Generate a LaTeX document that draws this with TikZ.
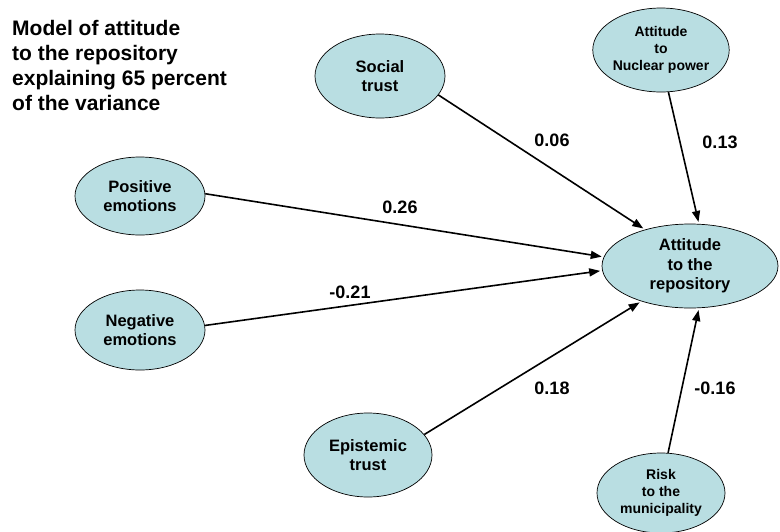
\documentclass[tikz,border=0pt]{standalone}
\usepackage{fontspec}
\setmainfont{Liberation Sans}
\usetikzlibrary{shapes.geometric,arrows.meta}

\definecolor{factorfill}{RGB}{185,222,226}

\tikzstyle{factor} = [ellipse,draw=black,line width=0.7pt,fill=factorfill,inner sep=0pt,align=center,font=\bfseries\fontsize{16.5}{19.5}\selectfont]
\tikzstyle{smallfactor} = [factor,font=\bfseries\fontsize{14}{17}\selectfont]
\tikzstyle{path} = [line width=1.6pt,-{Triangle[length=11pt,width=8pt]},shorten >=2pt]
\tikzstyle{weight} = [inner sep=0pt,font=\bfseries\fontsize{18}{20}\selectfont]

\begin{document}
\begin{tikzpicture}[x=1pt,y=-1pt]
	\useasboundingbox (0,0) rectangle (780,531);

	\node[anchor=north west,inner sep=0pt,align=left,font=\bfseries\fontsize{21}{25}\selectfont] (title) at (12,20)
		{Model of attitude\\to the repository\\explaining 65 percent\\of the variance};

	\node[factor,minimum width=176,minimum height=84] (rep) at (690,266) {Attitude\\to the\\repository};

	\node[factor,minimum width=130,minimum height=84] (soc) at (380,76) {Social\\trust};
	\node[smallfactor,minimum width=128,minimum height=84] (nuc) at (661,50) {Attitude\\to\\Nuclear power};
	\node[factor,minimum width=130,minimum height=78] (pos) at (140,196) {Positive\\emotions};
	\node[factor,minimum width=130,minimum height=80] (neg) at (140,330) {Negative\\emotions};
	\node[factor,minimum width=128,minimum height=84] (epi) at (368,455) {Epistemic\\trust};
	\node[smallfactor,minimum width=128,minimum height=80] (risk) at (661,493) {Risk\\to the\\municipality};

	\draw[path] (soc.-18) -- (rep.141);
	\draw[path] (nuc.-80) -- (rep.78);
	\draw[path] (pos.2) -- (rep.174);
	\draw[path] (neg.4) -- (rep.183);
	\draw[path] (epi.20) -- (rep.216);
	\draw[path] (risk.80) -- (rep.282);

	\node[weight] (w1) at (552,140) {0.06};
	\node[weight] (w2) at (720,142) {0.13};
	\node[weight] (w3) at (400,207) {0.26};
	\node[weight] (w4) at (350,292) {-0.21};
	\node[weight] (w5) at (552,388) {0.18};
	\node[weight] (w6) at (715,388) {-0.16};
\end{tikzpicture}
\end{document}
